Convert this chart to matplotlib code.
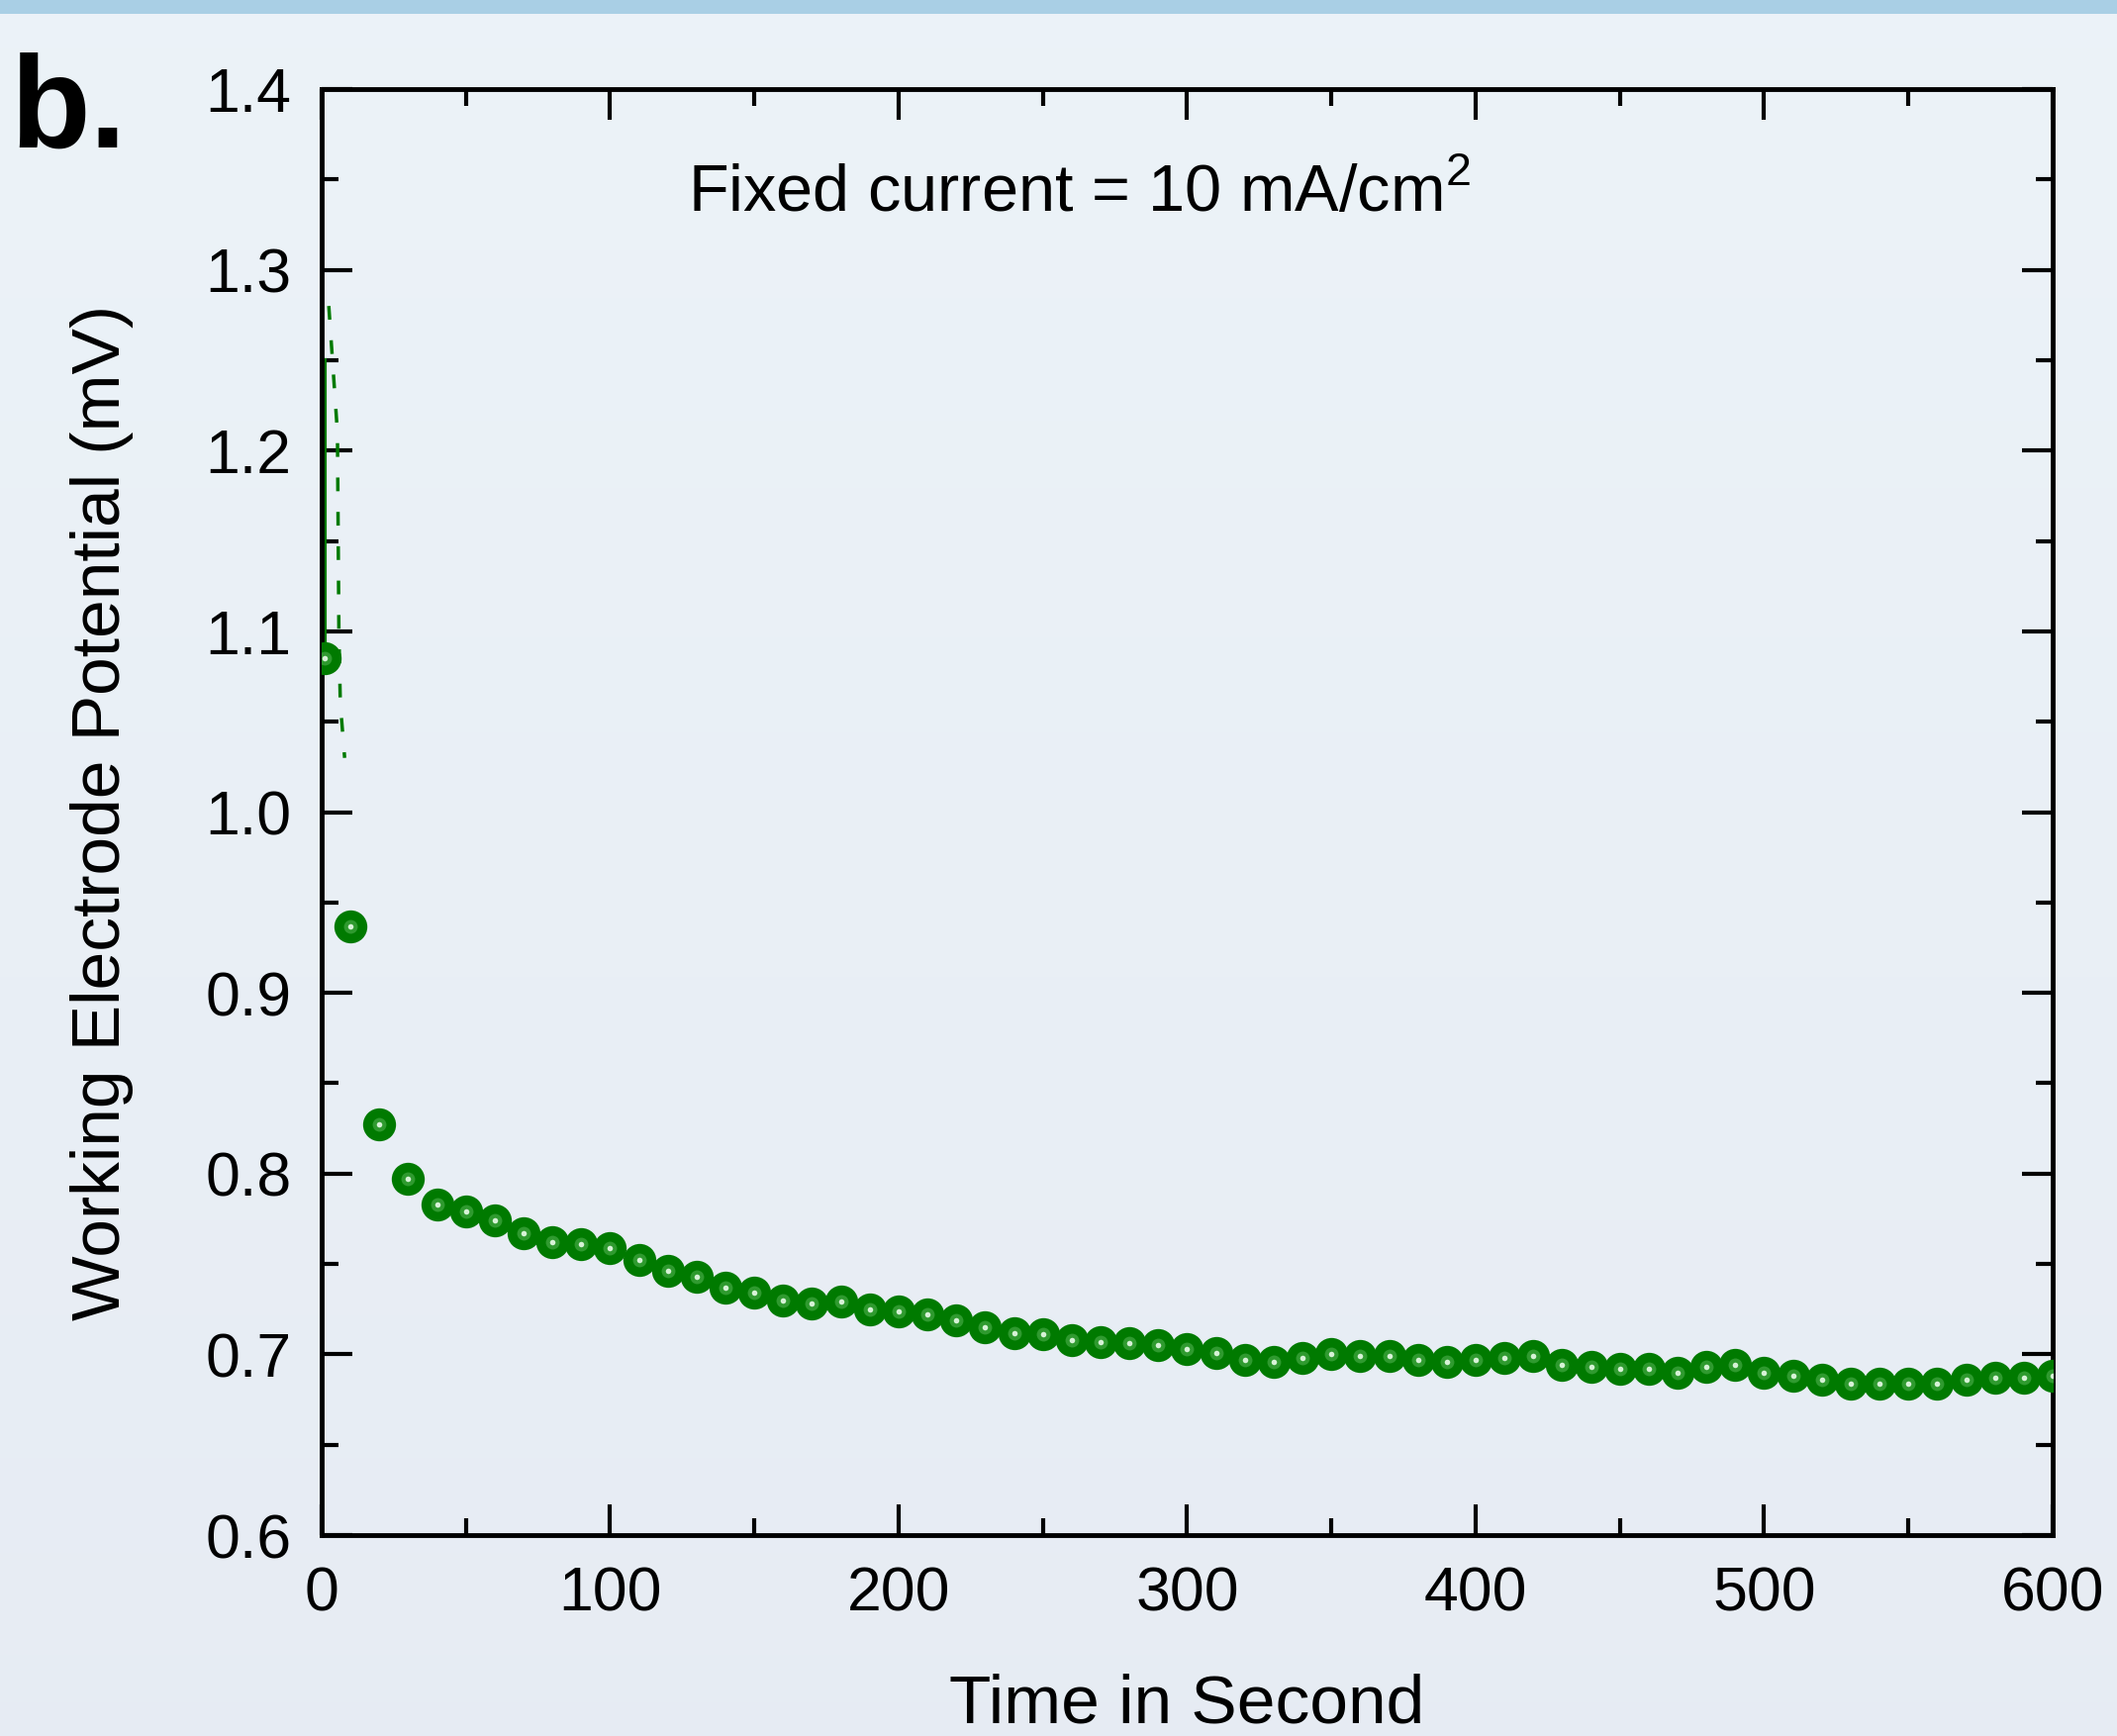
import numpy as np
import matplotlib
matplotlib.use("Agg")
import matplotlib.pyplot as plt
from matplotlib.ticker import MultipleLocator

plt.rcParams['font.family'] = ['Liberation Sans', 'DejaVu Sans']
plt.rcParams['mathtext.fontset'] = 'custom'
plt.rcParams['mathtext.rm'] = 'Liberation Sans'

# data
time_s = [1, 10, 20, 30, 40, 50, 60, 70, 80, 90, 100, 110, 120, 130, 140, 150,
          160, 170, 180, 190, 200, 210, 220, 230, 240, 250, 260, 270, 280, 290,
          300, 310, 320, 330, 340, 350, 360, 370, 380, 390, 400, 410, 420, 430,
          440, 450, 460, 470, 480, 490, 500, 510, 520, 530, 540, 550, 560, 570,
          580, 590, 600]
potential = [1.085, 0.937, 0.827, 0.797, 0.783, 0.779, 0.774, 0.767, 0.762, 0.761,
             0.759, 0.752, 0.746, 0.743, 0.737, 0.734, 0.730, 0.728, 0.729, 0.725,
             0.724, 0.722, 0.719, 0.715, 0.712, 0.711, 0.708, 0.707, 0.706, 0.705,
             0.703, 0.701, 0.697, 0.696, 0.698, 0.700, 0.699, 0.699, 0.697, 0.696,
             0.697, 0.698, 0.699, 0.694, 0.693, 0.692, 0.692, 0.690, 0.693, 0.694,
             0.690, 0.688, 0.686, 0.684, 0.684, 0.684, 0.684, 0.686, 0.687, 0.687,
             0.688]

# initial spike traces near t = 0
spike_t = [1, 1]
spike_v = [1.25, 1.09]
dash_t = [2.5, 5.5, 6, 6.5, 8]
dash_v = [1.28, 1.21, 1.10, 1.06, 1.03]

fig = plt.figure(figsize=(21.39, 17.54), dpi=100)

# slide-like background
bg = fig.add_axes([0, 0, 1, 1], zorder=-10)
grad = np.linspace(0, 1, 256).reshape(-1, 1)
c_top = np.array([0.925, 0.953, 0.973])
c_bot = np.array([0.905, 0.925, 0.955])
img = c_top + (c_bot - c_top) * grad[:, :, None]
bg.imshow(img, aspect='auto', extent=[0, 1, 0, 1])
bg.add_patch(plt.Rectangle((0, 0.992), 1, 0.008, color='#a9cfe5', lw=0))
bg.set_xlim(0, 1)
bg.set_ylim(0, 1)
bg.axis('off')

ax = fig.add_axes([0.1519, 0.1157, 0.8177, 0.8330])
ax.patch.set_alpha(0)

ax.plot(spike_t, spike_v, color='#007a00', lw=3, zorder=2)
ax.plot(dash_t, dash_v, color='#007a00', lw=2.5, ls=(0, (4, 6)), zorder=2)
ax.plot(time_s, potential, 'o', color='#007a00', ms=24, mew=0, zorder=3)
ax.plot(time_s, potential, 'o', color='#4fb04f', ms=10, mew=0, alpha=0.6, zorder=4)
ax.plot(time_s, potential, 'o', color='#d6f2d6', ms=4, mew=0, zorder=5)

ax.set_xlim(0, 600)
ax.set_ylim(0.6, 1.4)
ax.xaxis.set_major_locator(MultipleLocator(100))
ax.xaxis.set_minor_locator(MultipleLocator(50))
ax.yaxis.set_major_locator(MultipleLocator(0.1))
ax.yaxis.set_minor_locator(MultipleLocator(0.05))
ax.yaxis.set_major_formatter(plt.FuncFormatter(lambda v, p: f'{v:.1f}'))

ax.tick_params(which='both', direction='in', top=True, right=True,
               labelsize=45, width=3, color='black')
ax.tick_params(which='major', length=22)
ax.tick_params(which='minor', length=12)
ax.tick_params(axis='x', pad=22)
ax.tick_params(axis='y', pad=22)
for s in ax.spines.values():
    s.set_linewidth(3.5)

ax.set_xlabel('Time in Second', fontsize=50, labelpad=36)
ax.set_ylabel('Working Electrode Potential (mV)', fontsize=50, labelpad=52)

ax.text(127, 1.332, 'Fixed current = 10 mA/cm$^{2}$', fontsize=48)

fig.text(0.005, 0.915, 'b.', fontsize=95, fontweight='bold')

fig.savefig('out.png', dpi=100)
